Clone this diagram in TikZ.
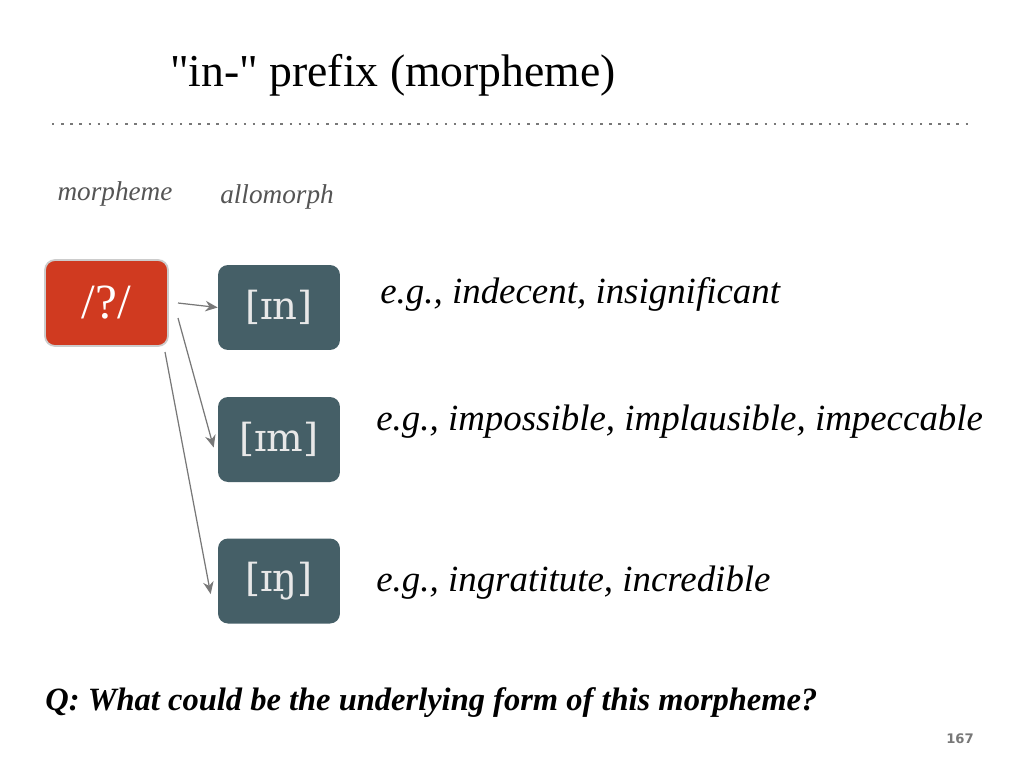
\documentclass[tikz,border=0pt]{standalone}
\usepackage{fontspec}
\usepackage{tikz}
\usetikzlibrary{arrows.meta}
\setmainfont{Liberation Serif}
\newfontfamily\titlefont{Liberation Serif}
\newfontfamily\ipafont{DejaVu Serif}
\newfontfamily\numfont{DejaVu Sans}
\definecolor{morphred}{RGB}{208, 58, 32}
\definecolor{allobox}{RGB}{69, 95, 103}
\definecolor{boxtext}{RGB}{232, 232, 232}
\definecolor{headgray}{RGB}{85, 85, 85}
\definecolor{arrowgray}{RGB}{120, 120, 120}

\tikzset{
  allo/.style={fill=allobox, rounded corners=0.2cm, minimum width=2.44cm,
    minimum height=1.7cm, text=boxtext, font=\ipafont\fontsize{22}{26}\selectfont},
  example/.style={anchor=base west, inner sep=0pt, font=\itshape\fontsize{21}{25}\selectfont},
  link/.style={arrowgray, line width=0.7pt, -{Stealth[length=7pt, width=6pt]}}
}

\begin{document}
\begin{tikzpicture}[x=0.02cm, y=-0.02cm]
  \fill[white] (0,0) rectangle (1024,768);
  \useasboundingbox (0,0) rectangle (1024,768);
  \node[anchor=base, inner sep=0pt] (title) at (393,86) {\titlefont\fontsize{26}{30}\selectfont "in-" prefix (morpheme)};
  \draw[arrowgray, line width=1.1pt, dash pattern=on 1.4pt off 3.8pt] (52,124) -- (973,124);
  \node[anchor=base, inner sep=0pt, headgray, font=\itshape\fontsize{15.5}{18}\selectfont] (morphhead) at (115,200) {morpheme};
  \node[anchor=base, inner sep=0pt, headgray, font=\itshape\fontsize{15.5}{18}\selectfont] (allohead) at (277,203) {allomorph};
  \node[fill=morphred, draw=black!20, line width=1pt, rounded corners=0.2cm, minimum width=2.46cm,
    minimum height=1.72cm, text=white, font=\fontsize{28}{32}\selectfont] (morph) at (106.5,303) {/?/};
  \node[allo] (alln) at (279,307.5) {[ɪn]};
  \node[allo] (allm) at (279,439.5) {[ɪm]};
  \node[allo] (allng) at (279,581) {[ɪŋ]};
  \coordinate (sn) at (178,303);
  \coordinate (sm) at (178,318);
  \coordinate (sng) at (165,352);
  \draw[link] (sn) -- (alln.west);
  \draw[link] (sm) -- ([xshift=-0.08cm,yshift=-0.16cm]allm.west);
  \draw[link] (sng) -- ([xshift=-0.14cm,yshift=-0.26cm]allng.west);
  \node[example] (exn) at (380,303) {e.g., indecent, insignificant};
  \node[example] (exm) at (376,430) {e.g., impossible, implausible, impeccable};
  \node[example] (exng) at (376,591) {e.g., ingratitute, incredible};
  \node[anchor=base west, inner sep=0pt, font=\bfseries\itshape\fontsize{18.5}{22}\selectfont] (question) at (45,710)
    {Q: What could be the underlying form of this morpheme?};
  \node[anchor=base, arrowgray, font=\numfont\bfseries\fontsize{7.5}{9}\selectfont] (pagenum) at (960,743) {167};
\end{tikzpicture}
\end{document}
